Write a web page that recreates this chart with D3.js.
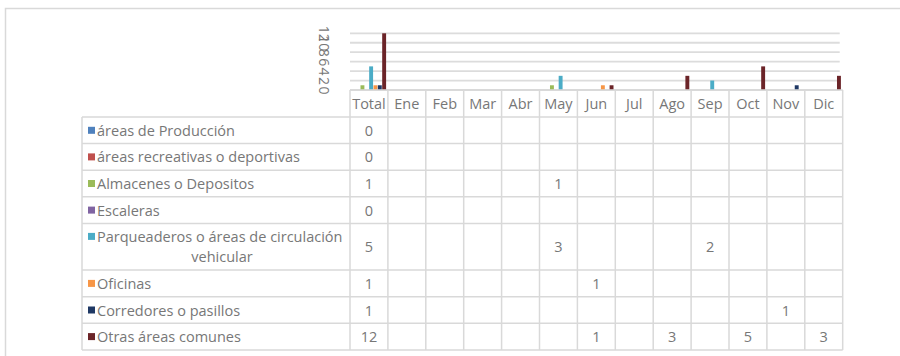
<!DOCTYPE html>
<html>
<head>
<meta charset="utf-8">
<script src="https://cdn.jsdelivr.net/npm/d3@7"></script>
<style>
  html, body { margin: 0; padding: 0; background: #fff; }
  svg { display: block; font-family: "Open Sans", Lato, sans-serif; }
</style>
</head>
<body>
<svg id="chart" width="900" height="356"></svg>
<script>
// Column headers of the data table (first one is the yearly total)
const columns = ["Total", "Ene", "Feb", "Mar", "Abr", "May", "Jun", "Jul", "Ago", "Sep", "Oct", "Nov", "Dic"];

// Series names and colours
const seriesNames = [
  "áreas de Producción",
  "áreas recreativas o deportivas",
  "Almacenes o Depositos",
  "Escaleras",
  "Parqueaderos o áreas de circulación vehicular",
  "Oficinas",
  "Corredores o pasillos",
  "Otras áreas comunes"
];
const seriesColors = ["#4F81BD", "#C0504D", "#9BBB59", "#8064A2", "#4BACC6", "#F79646", "#1F3864", "#6B2428"];

// Values per series, one entry per column (null = empty cell)
const produccion   = [0,  null, null, null, null, null, null, null, null, null, null, null, null];
const recreativas  = [0,  null, null, null, null, null, null, null, null, null, null, null, null];
const almacenes    = [1,  null, null, null, null, 1,    null, null, null, null, null, null, null];
const escaleras    = [0,  null, null, null, null, null, null, null, null, null, null, null, null];
const parqueaderos = [5,  null, null, null, null, 3,    null, null, null, 2,    null, null, null];
const oficinas     = [1,  null, null, null, null, null, 1,    null, null, null, null, null, null];
const corredores   = [1,  null, null, null, null, null, null, null, null, null, null, 1,    null];
const otras        = [12, null, null, null, null, null, 1,    null, 3,    null, 5,    null, 3];

const seriesValues = [produccion, recreativas, almacenes, escaleras, parqueaderos, oficinas, corredores, otras];

// Y axis ticks
const yTicks = [0, 2, 4, 6, 8, 10, 12];

const svg = d3.select("#chart");
const gridColor = "#d9d9d9";
const textColor = "#777777";
const fontSize = 14.5;

// Outer chart frame
svg.append("rect")
  .attr("x", 5.5).attr("y", 8.5)
  .attr("width", 910).attr("height", 360)
  .attr("fill", "none").attr("stroke", gridColor).attr("stroke-width", 1.5);

// Geometry of plot and table
const plotLeft = 350, plotRight = 842.7;
const plotTop = 33.3, plotBottom = 90;
const legendLeft = 82;
const headerBottom = 117;

const x = d3.scaleBand().domain(columns).range([plotLeft, plotRight]).padding(0);
const x1 = d3.scaleBand().domain(d3.range(seriesNames.length))
  .range([1.8, x.bandwidth() - 1.8]).paddingInner(0.1);
const y = d3.scaleLinear().domain([0, 12]).range([plotBottom, plotTop]);

// Gridlines
svg.append("g")
  .selectAll("line").data(yTicks).join("line")
  .attr("x1", plotLeft).attr("x2", plotRight - 3)
  .attr("y1", d => y(d)).attr("y2", d => y(d))
  .attr("stroke", "#dcdcdc").attr("stroke-width", 1.8);

// Y axis labels, written vertically (reading top to bottom)
const yAxis = d3.axisLeft(y).tickValues(yTicks).tickSize(0).tickPadding(0);
const yAxisG = svg.append("g").attr("transform", `translate(${plotLeft - 26},0)`).call(yAxis);
yAxisG.select(".domain").remove();
yAxisG.selectAll("text")
  .attr("x", 0).attr("y", 0).attr("dy", null)
  .attr("text-anchor", "middle")
  .attr("dominant-baseline", "central")
  .attr("transform", "rotate(90)")
  .attr("font-size", 14)
  .attr("font-family", "'Open Sans', sans-serif")
  .attr("fill", textColor);

// Bars
const barData = [];
seriesValues.forEach((vals, s) => {
  vals.forEach((v, c) => {
    if (v !== null && v > 0) barData.push({ s, col: columns[c], v });
  });
});
svg.append("g")
  .selectAll("rect").data(barData).join("rect")
  .attr("x", d => x(d.col) + x1(d.s))
  .attr("width", x1.bandwidth())
  .attr("y", d => y(d.v))
  .attr("height", d => y(0) - y(d.v))
  .attr("fill", d => seriesColors[d.s]);

// Table rows
const rowHeights = seriesNames.map((n, i) => i === 4 ? 46.7 : 26.6);
const rowTops = [];
let acc = headerBottom;
rowHeights.forEach(h => { rowTops.push(acc); acc += h; });
const tableBottom = acc;

const table = svg.append("g");

// Horizontal lines
table.append("line")
  .attr("x1", plotLeft).attr("x2", plotRight)
  .attr("y1", plotBottom).attr("y2", plotBottom)
  .attr("stroke", gridColor).attr("stroke-width", 1.5);
table.selectAll("line.h").data([...rowTops, tableBottom]).join("line")
  .attr("class", "h")
  .attr("x1", legendLeft).attr("x2", plotRight)
  .attr("y1", d => d).attr("y2", d => d)
  .attr("stroke", gridColor).attr("stroke-width", 1.5);

// Vertical lines
const vLines = columns.map(c => x(c)).concat([plotRight]);
table.selectAll("line.v").data(vLines).join("line")
  .attr("class", "v")
  .attr("x1", d => d).attr("x2", d => d)
  .attr("y1", plotBottom).attr("y2", tableBottom)
  .attr("stroke", gridColor).attr("stroke-width", 1.5);
table.append("line")
  .attr("x1", legendLeft).attr("x2", legendLeft)
  .attr("y1", headerBottom).attr("y2", tableBottom)
  .attr("stroke", gridColor).attr("stroke-width", 1.5);

// Column headers
table.selectAll("text.col").data(columns).join("text")
  .attr("class", "col")
  .attr("x", d => x(d) + x.bandwidth() / 2)
  .attr("y", (plotBottom + headerBottom) / 2)
  .attr("text-anchor", "middle").attr("dominant-baseline", "central")
  .attr("font-size", fontSize).attr("fill", textColor)
  .text(d => d);

// Legend keys and series labels
seriesNames.forEach((name, i) => {
  const top = rowTops[i];
  const h = rowHeights[i];
  if (i === 4) {
    const lines = ["Parqueaderos o áreas de circulación", "vehicular"];
    table.append("rect")
      .attr("x", 88).attr("y", top + 13 - 3.5).attr("width", 7).attr("height", 7)
      .attr("fill", seriesColors[i]);
    table.append("text")
      .attr("x", 97).attr("y", top + 13)
      .attr("dominant-baseline", "central")
      .attr("font-size", fontSize).attr("fill", textColor).text(lines[0]);
    table.append("text")
      .attr("x", 222).attr("y", top + 33)
      .attr("text-anchor", "middle").attr("dominant-baseline", "central")
      .attr("font-size", fontSize).attr("fill", textColor).text(lines[1]);
  } else {
    table.append("rect")
      .attr("x", 88).attr("y", top + h / 2 - 3.5).attr("width", 7).attr("height", 7)
      .attr("fill", seriesColors[i]);
    table.append("text")
      .attr("x", 97).attr("y", top + h / 2)
      .attr("dominant-baseline", "central")
      .attr("font-size", fontSize).attr("fill", textColor).text(name);
  }
  // Cell values
  seriesValues[i].forEach((v, c) => {
    if (v === null) return;
    table.append("text")
      .attr("x", x(columns[c]) + x.bandwidth() / 2)
      .attr("y", top + h / 2)
      .attr("text-anchor", "middle").attr("dominant-baseline", "central")
      .attr("font-size", fontSize).attr("fill", textColor)
      .text(v);
  });
});
</script>
</body>
</html>
